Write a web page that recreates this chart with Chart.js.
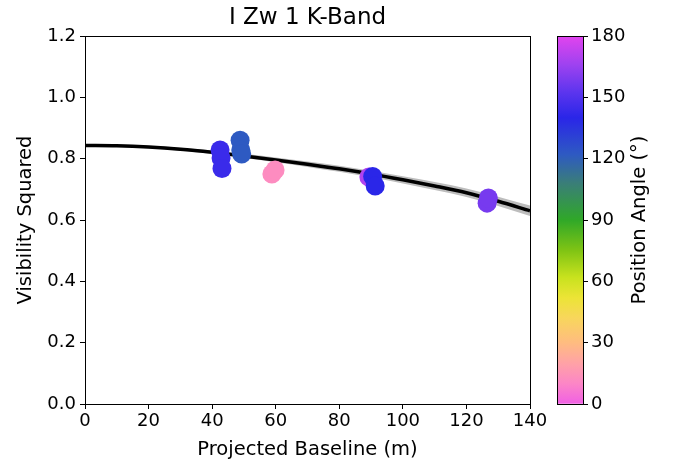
<!DOCTYPE html>
<html>
<head>
<meta charset="utf-8">
<script src="https://cdn.jsdelivr.net/npm/chart.js@4"></script>
<style>
  html, body { margin: 0; padding: 0; background: #fff; }
  #wrap { position: relative; width: 681px; height: 464px; }
  #main { position: absolute; left: 0; top: 0; }
  #cbar { position: absolute; left: 545px; top: 0; }
</style>
</head>
<body>
<div id="wrap">
  <canvas id="main" width="565" height="464"></canvas>
  <canvas id="cbar" width="136" height="464"></canvas>
</div>
<script>
const baseline = [42.5, 42.8, 43.1, 48.8, 49.0, 49.3, 58.8, 59.8, 89.3, 90.5, 91.3, 126.5, 126.9];
const vis2     = [0.828, 0.802, 0.768, 0.860, 0.828, 0.815, 0.750, 0.763, 0.740, 0.742, 0.711, 0.655, 0.672];
const posAngle = [144, 144, 144, 122, 122, 122, 12, 12, 170, 140, 140, 158, 158];

const fitX     = [0, 10, 20, 30, 40, 50, 60, 70, 80, 90, 100, 110, 120, 130, 140];
const fitY     = [0.843, 0.842, 0.838, 0.831, 0.821, 0.809, 0.796, 0.782, 0.767, 0.750, 0.731, 0.711, 0.689, 0.661, 0.630];
const fitLow   = [0.840, 0.839, 0.834, 0.826, 0.815, 0.802, 0.788, 0.773, 0.757, 0.739, 0.719, 0.698, 0.675, 0.646, 0.613];
const fitHigh  = [0.846, 0.845, 0.842, 0.836, 0.827, 0.816, 0.804, 0.791, 0.777, 0.761, 0.743, 0.724, 0.703, 0.676, 0.647];

const xTicks = [0, 20, 40, 60, 80, 100, 120, 140];
const yTicks = [0, 0.2, 0.4, 0.6, 0.8, 1.0, 1.2];
const paTicks = [0, 30, 60, 90, 120, 150, 180];

// colormap used for position angle
const cmapPos = [0, 10, 20, 30, 42, 52, 62, 75, 90, 108, 122, 140, 152, 166, 180];
const cmapCol = ['#f060e4', '#fc86c6', '#ffa2a6', '#ffbc80', '#f8d65c', '#ece436', '#c8e21e', '#80c414', '#30a828',
                 '#3a7e78', '#2e5ac2', '#2a26e8', '#5a34ee', '#9e42f0', '#e244ee'];

function hex2rgb(h) { return [1,3,5].map(i => parseInt(h.substr(i,2),16)); }
function paColor(v) {
  for (let i = 1; i < cmapPos.length; i++) {
    if (v <= cmapPos[i]) {
      const t = (v - cmapPos[i-1]) / (cmapPos[i] - cmapPos[i-1]);
      const a = hex2rgb(cmapCol[i-1]), b = hex2rgb(cmapCol[i]);
      return `rgb(${a.map((c,k)=>Math.round(c+(b[k]-c)*t)).join(',')})`;
    }
  }
  return cmapCol[cmapCol.length-1];
}

const FONT = 'DejaVu Sans';
const TICK = 18;
const LABEL = 19.5;
Chart.defaults.font.family = FONT;
Chart.defaults.color = '#000';

const frame = {
  id: 'frame',
  afterDraw(chart) {
    const { ctx, chartArea: a } = chart;
    ctx.save();
    ctx.strokeStyle = '#000';
    ctx.lineWidth = 1;
    ctx.strokeRect(Math.round(a.left) + 0.5, Math.round(a.top) + 0.5, Math.round(a.right - a.left), Math.round(a.bottom - a.top));
    ctx.restore();
  }
};

// title centred over the plot area (matplotlib style)
const axTitle = {
  id: 'axTitle',
  afterDraw(chart, args, opts) {
    const { ctx, chartArea: a } = chart;
    ctx.save();
    ctx.font = `${opts.size}px "${FONT}"`;
    ctx.fillStyle = '#000';
    ctx.textAlign = 'center';
    ctx.textBaseline = 'middle';
    ctx.fillText(opts.text, (a.left + a.right) / 2, 18);
    ctx.restore();
  }
};

const tickGrid = { display: true, drawOnChartArea: false, drawTicks: true, tickLength: 5, color: '#000', tickColor: '#000' };

new Chart(document.getElementById('main'), {
  type: 'scatter',
  data: {
    datasets: [
      {
        label: 'data',
        data: baseline.map((b, i) => ({ x: b, y: vis2[i] })),
        backgroundColor: posAngle.map(paColor),
        pointRadius: 9.5,
        borderWidth: 0,
        order: 0
      },
      {
        type: 'line',
        label: 'fit',
        data: fitX.map((b, i) => ({ x: b, y: fitY[i] })),
        borderColor: '#000',
        borderWidth: 3.5,
        pointRadius: 0,
        cubicInterpolationMode: 'monotone',
        fill: false,
        order: 1
      },
      {
        type: 'line',
        label: 'low',
        data: fitX.map((b, i) => ({ x: b, y: fitLow[i] })),
        borderWidth: 0,
        borderColor: 'rgba(0,0,0,0)',
        pointRadius: 0,
        cubicInterpolationMode: 'monotone',
        fill: false,
        order: 3
      },
      {
        type: 'line',
        label: 'high',
        data: fitX.map((b, i) => ({ x: b, y: fitHigh[i] })),
        borderWidth: 0,
        borderColor: 'rgba(0,0,0,0)',
        backgroundColor: '#bdbdbd',
        pointRadius: 0,
        cubicInterpolationMode: 'monotone',
        fill: 2,
        order: 2
      }
    ]
  },
  options: {
    responsive: false,
    animation: false,
    layout: { padding: { left: 0, right: 35, top: 36, bottom: 0 } },
    plugins: {
      legend: { display: false },
      tooltip: { enabled: false },
      title: { display: false },
      axTitle: { text: 'I Zw 1 K-Band', size: 23 }
    },
    scales: {
      x: {
        type: 'linear',
        min: 0, max: 140,
        afterBuildTicks: s => { s.ticks = xTicks.map(v => ({ value: v })); },
        afterFit: s => { s.height = 60; s.paddingRight = 0; s.paddingLeft = 0; },
        ticks: { font: { size: TICK }, color: '#000', padding: 2, maxRotation: 0 },
        grid: tickGrid,
        border: { display: true, color: '#000', width: 1 },
        title: { display: true, text: 'Projected Baseline (m)', font: { size: LABEL }, color: '#000', padding: { top: 0, bottom: 2 } }
      },
      y: {
        type: 'linear',
        min: 0, max: 1.2,
        afterBuildTicks: s => { s.ticks = yTicks.map(v => ({ value: v })); },
        afterFit: s => { s.width = 85; s.paddingTop = 0; s.paddingBottom = 0; },
        ticks: { font: { size: TICK }, color: '#000', padding: 4, callback: v => v.toFixed(1) },
        grid: tickGrid,
        border: { display: true, color: '#000', width: 1 },
        title: { display: true, text: 'Visibility Squared', font: { size: LABEL }, color: '#000', padding: { top: 14, bottom: 0 } }
      }
    }
  },
  plugins: [frame, axTitle]
});

// colorbar: one floating bar spanning 0..180 filled with the colormap
const cbarLabel = {
  id: 'cbarLabel',
  afterDraw(chart) {
    const { ctx, chartArea: a } = chart;
    ctx.save();
    ctx.translate(95, (a.top + a.bottom) / 2);
    ctx.rotate(-Math.PI / 2);
    ctx.font = `${LABEL}px "${FONT}"`;
    ctx.fillStyle = '#000';
    ctx.textAlign = 'center';
    ctx.textBaseline = 'middle';
    ctx.fillText('Position Angle (°)', 0, 0);
    ctx.restore();
  }
};

new Chart(document.getElementById('cbar'), {
  type: 'bar',
  data: {
    labels: [''],
    datasets: [{
      data: [[paTicks[0], paTicks[paTicks.length - 1]]],
      barPercentage: 1,
      categoryPercentage: 1,
      borderWidth: 0,
      backgroundColor: ctx => {
        const a = ctx.chart.chartArea;
        if (!a) return '#888';
        const ys = ctx.chart.scales.y;
        const g = ctx.chart.ctx.createLinearGradient(0, ys.getPixelForValue(0), 0, ys.getPixelForValue(180));
        cmapPos.forEach((p, i) => g.addColorStop(p / 180, cmapCol[i]));
        return g;
      }
    }]
  },
  options: {
    responsive: false,
    animation: false,
    layout: { padding: { left: 12, right: 0, top: 36, bottom: 60 } },
    plugins: { legend: { display: false }, tooltip: { enabled: false }, title: { display: false } },
    scales: {
      x: { display: false },
      y: {
        position: 'right',
        min: 0, max: 180,
        afterBuildTicks: s => { s.ticks = paTicks.map(v => ({ value: v })); },
        afterFit: s => { s.width = 98; s.paddingTop = 0; s.paddingBottom = 0; },
        ticks: { font: { size: TICK }, color: '#000', padding: 3 },
        grid: tickGrid,
        border: { display: true, color: '#000', width: 1 }
      }
    }
  },
  plugins: [frame, cbarLabel]
});
</script>
</body>
</html>
